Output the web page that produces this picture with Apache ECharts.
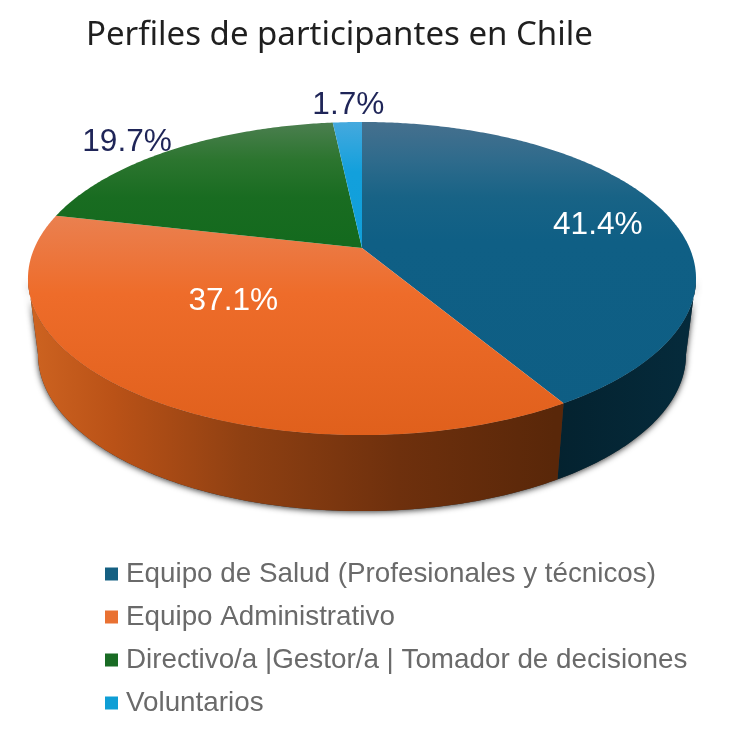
<!DOCTYPE html>
<html><head><meta charset="utf-8">
<style>html,body{margin:0;padding:0;background:#fff}#c{width:731px;height:729px}</style>
<script src="https://cdn.jsdelivr.net/npm/echarts@6/dist/echarts.min.js"></script>
</head><body><div id="c"></div>
<script>
var categories = ['Equipo de Salud (Profesionales y técnicos)','Equipo Administrativo','Directivo/a |Gestor/a | Tomador de decisiones','Voluntarios'];
var shares = [41.4, 37.1, 19.7, 1.7];
var titleText = 'Perfiles de participantes en Chile';

var baseColors = ['#156082','#E97132','#196B24','#0F9ED5'];
var topStops = [
  [[0,'#46708E'],[0.12,'#2F6B8C'],[0.24,'#186386'],[0.38,'#0F5F85'],[1,'#0E5E84']],
  [[0,'#EC9A73'],[0.3,'#EA8050'],[0.55,'#EE6C2A'],[1,'#E0601C']],
  [[0,'#4C7F50'],[0.12,'#2C752F'],[0.24,'#196C21'],[0.38,'#146A1E'],[1,'#146A1E']],
  [[0,'#45A9DE'],[0.16,'#12A0DC'],[1,'#0F9ED5']]
];
var wallStops = [
  [[0,'#04222F'],[1,'#052B3C']],
  [[0,'#CC6220'],[0.15,'#BA5217'],[0.4,'#8F4012'],[0.7,'#6E300D'],[1,'#592709']],
  [[0,'#0B3A10'],[1,'#0B3A10']],
  [[0,'#085A7A'],[1,'#085A7A']]
];
var labelColors = ['#FFFFFF','#FFFFFF','#1F2558','#1F2558'];
var labelRadius = [0.78,0.6,1,1];
var labelNudge = [[-1,7],[-1,-27],[-45,-7],[1,-17]];

var apex = [362,248], A = 327.6, B = 150.6, K = 0.195;
var wallDrop = 76, wallScaleX = 0.97;
var TAU = Math.PI*2;
var total = shares.reduce(function(s,v){return s+v;},0);

function proj(t, r, lower){
  var u = r*Math.sin(t), v = -r*Math.cos(t), d = 1-K*v;
  var x = A*u/d, y = B*v/d;
  return lower ? [apex[0]+x*wallScaleX, apex[1]+wallDrop+y] : [apex[0]+x, apex[1]+y];
}
function arc(t0,t1,lower){
  var n = Math.max(2,Math.ceil(Math.abs(t1-t0)/0.01)), out=[];
  for(var i=0;i<=n;i++) out.push(proj(t0+(t1-t0)*i/n,1,lower));
  return out;
}
function grad(x0,y0,x1,y1,stops){
  return {type:'linear',x:x0,y:y0,x2:x1,y2:y1,global:true,
    colorStops:stops.map(function(s){return {offset:s[0],color:s[1]};})};
}
var tR = Math.acos(-K), tL = TAU-tR;

function makeRender(idx){
  return function(params, api){
    var val = api.value(0);
    var before = 0;
    for(var i=0;i<idx;i++) before += shares[i];
    var t0 = before/total*TAU, t1 = (before+val)/total*TAU;
    var kids = [];
    if(idx===0){
      kids.push({type:'polygon',z2:-1,
        shape:{points:arc(tR,tL,false).concat(arc(tL,tR,true))},
        style:{fill:'#333',shadowBlur:6,shadowColor:'rgba(0,0,0,0.8)',shadowOffsetY:1}});
    }
    var w0 = Math.max(t0,tR), w1 = Math.min(t1,tL);
    if(w1>w0){
      kids.push({type:'polygon',z2:1,
        shape:{points:arc(w0,w1,false).concat(arc(w1,w0,true))},
        style:{fill:idx===1?grad(35,0,555,0,wallStops[1]):grad(556,0,696,0,wallStops[idx])}});
    }
    kids.push({type:'polygon',z2:5,
      shape:{points:[apex].concat(arc(t0,t1,false))},
      style:{fill:grad(0,122,0,435,topStops[idx])}});
    var mid=(t0+t1)/2, p=proj(mid,labelRadius[idx],false);
    kids.push({type:'text',z2:10,
      style:{text:val.toFixed(1)+'%',x:p[0]+labelNudge[idx][0],y:p[1]+labelNudge[idx][1],
        fill:labelColors[idx],font:'31.6px "Liberation Sans"',textAlign:'center',textVerticalAlign:'middle'}});
    return {type:'group',children:kids};
  };
}

var chart = echarts.init(document.getElementById('c'),null,{renderer:'canvas'});
chart.setOption({
  animation:false,
  backgroundColor:'#fff',
  title:{text:titleText,left:86,top:19,padding:0,
    textStyle:{fontFamily:'"Noto Sans"',fontSize:33,fontWeight:'normal',color:'#1f1f1f'}},
  legend:{orient:'vertical',left:105,top:560,padding:0,icon:'rect',itemWidth:13,itemHeight:13,itemGap:15,
    data:categories,selectedMode:false,
    textStyle:{fontFamily:'"Liberation Sans"',fontSize:27.8,color:'#6a6a6a',padding:[0,0,0,3]}},
  series:categories.map(function(name,i){
    return {type:'custom',name:name,coordinateSystem:'none',silent:true,
      itemStyle:{color:baseColors[i]},
      renderItem:makeRender(i),data:[[shares[i]]]};
  })
});
</script></body></html>
